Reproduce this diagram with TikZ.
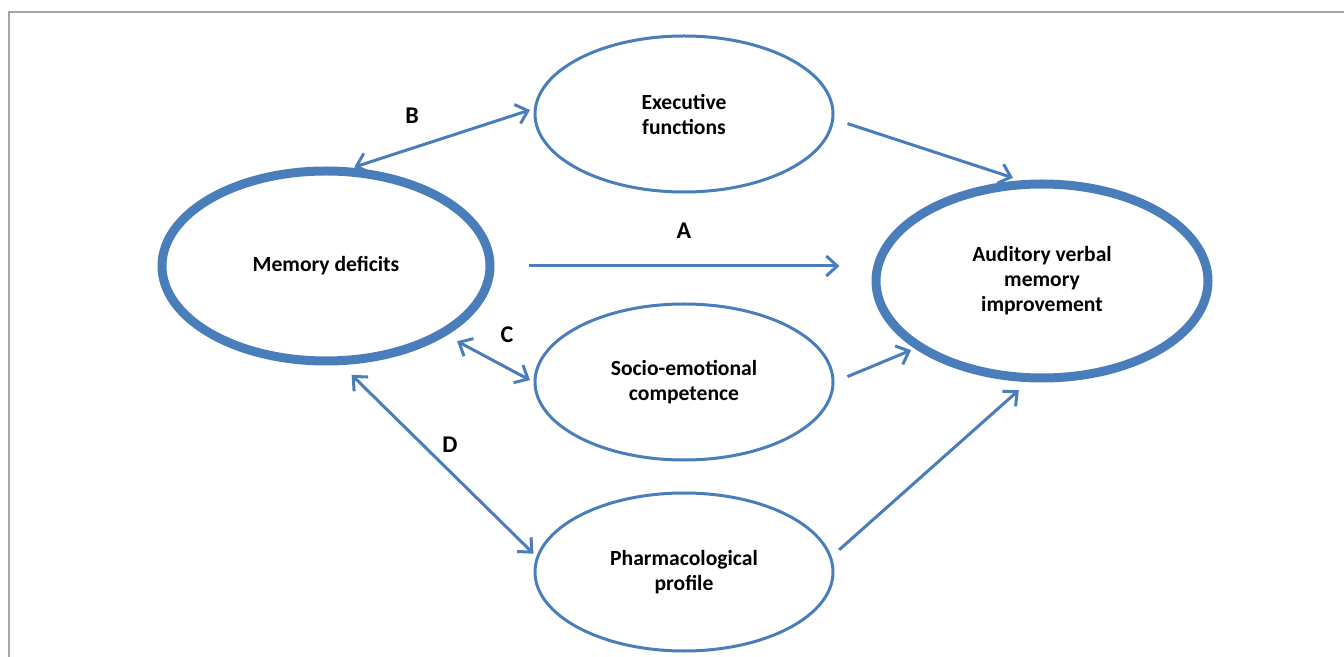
\documentclass[tikz,border=0pt]{standalone}
\usepackage{fontspec}
\setmainfont{Carlito}
\usetikzlibrary{shapes.geometric,arrows.meta}
\definecolor{edgeblue}{HTML}{4A7EBB}
\tikzset{
  thinoval/.style={ellipse,draw=edgeblue,line width=1.5pt,inner sep=0pt,align=center,
    minimum width=149pt,minimum height=78pt,font=\fontsize{10.8}{12.5}\selectfont\bfseries},
  thickoval/.style={thinoval,line width=4.5pt},
  link/.style={draw=edgeblue,line width=1.5pt,-{Straight Barb[length=5.5pt,width=10pt]}},
  twolink/.style={link,{Straight Barb[length=5.5pt,width=10pt]}-{Straight Barb[length=5.5pt,width=10pt]}},
  tag/.style={font=\fontsize{12}{14}\selectfont\bfseries}
}
\begin{document}
\begin{tikzpicture}[x=0.5pt,y=-0.5pt]
  \useasboundingbox (0,0) rectangle (1344,657);
  \draw[gray!70,line width=0.8pt] (9,657) -- (9,12) -- (1344,12);

  \node[thickoval,minimum width=164pt,minimum height=95pt] (md) at (326,266) {Memory deficits};
  \node[thinoval] (ef) at (684,114) {Executive\\functions};
  \node[thinoval] (se) at (684,382) {Socio-emotional\\competence};
  \node[thinoval,minimum height=79pt] (pp) at (684,572) {Pharmacological\\profile};
  \node[thickoval,minimum width=166pt,minimum height=97pt] (aud) at (1042,281) {Auditory verbal\\memory\\improvement};

  \draw[twolink,shorten <=1pt,shorten >=2pt] (md.75) -- (ef.178);
  \draw[link,shorten <=7pt,shorten >=4pt] (ef.-2) -- (aud.102);
  \draw[link,shorten <=17pt,shorten >=16pt] (md.east) -- (md.east -| aud.west);
  \draw[twolink,shorten <=6pt,shorten >=2pt] (md.-30) -- (se.west);
  \draw[link,shorten <=7pt,shorten >=2pt] (se.east) -- (aud.208);
  \draw[twolink,shorten <=7pt,shorten >=2pt] (md.-81) -- (pp.174);
  \draw[link,shorten <=5pt,shorten >=6pt] (pp.6) -- (aud.262);

  \node[tag] (lb) at (412,116) {B};
  \node[tag] (la) at (684,231) {A};
  \node[tag] (lc) at (507,335) {C};
  \node[tag] (ld) at (450,445) {D};
\end{tikzpicture}
\end{document}
